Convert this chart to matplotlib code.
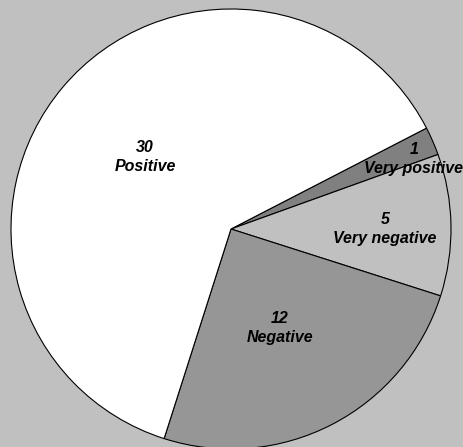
import matplotlib
matplotlib.use("Agg")
import matplotlib.pyplot as plt
import numpy as np

# Slice data, listed clockwise from the start angle
categories = ["Very positive", "Very negative", "Negative", "Positive"]
values = [1, 5, 12, 30]
colors = ["#808080", "#c0c0c0", "#969696", "#ffffff"]

# Label placement: radial distance (fraction of radius) and angular nudge (deg)
label_dist = [0.89, 0.70, 0.50, 0.51]
label_nudge = [-2.5, -1.0, -1.0, 0.2]

W, H, DPI = 463, 447, 100
fig = plt.figure(figsize=(W / DPI, H / DPI), dpi=DPI, facecolor="#c0c0c0")
ax = fig.add_axes([0, 0, 1, 1])
ax.set_facecolor("#c0c0c0")

# Pie geometry in pixels
cx, cy, R = 231, 229, 220

wedges, _ = ax.pie(values, colors=colors, startangle=27.3, counterclock=False,
                   radius=1.0, center=(0, 0), frame=True,
                   wedgeprops=dict(edgecolor="black", linewidth=0.8))
ax.set_xlim(-cx / R, (W - cx) / R)
ax.set_ylim(-(H - cy) / R, cy / R)
ax.set_aspect("auto")
ax.axis("off")

for w, cat, val, d, nud in zip(wedges, categories, values, label_dist, label_nudge):
    mid = np.deg2rad((w.theta1 + w.theta2) / 2 + nud)
    x, y = d * np.cos(mid), d * np.sin(mid)
    ax.text(x, y, f"{val}\n{cat}", ha="center", va="center",
            fontsize=11.5, fontweight="bold", fontstyle="italic",
            family="Liberation Sans", linespacing=1.32, color="black")

fig.savefig("out.png", dpi=DPI, facecolor=fig.get_facecolor())
